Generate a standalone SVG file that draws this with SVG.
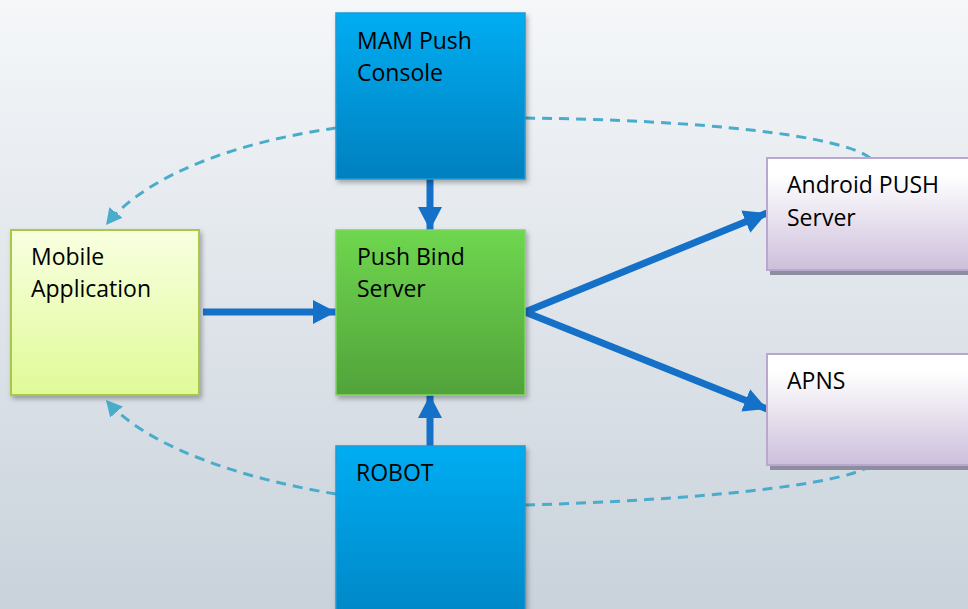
<svg xmlns="http://www.w3.org/2000/svg" width="968" height="609" viewBox="0 0 968 609">
<defs>
<linearGradient id="bg" x1="0" y1="0" x2="0" y2="1"><stop offset="0" stop-color="#f5f7f9"/><stop offset="1" stop-color="#c9d2db"/></linearGradient>
<linearGradient id="gBlue" x1="0" y1="0" x2="0" y2="1"><stop offset="0" stop-color="#00adf2"/><stop offset="1" stop-color="#0080bf"/></linearGradient>
<linearGradient id="gGreen" x1="0" y1="0" x2="0" y2="1"><stop offset="0" stop-color="#6fd64f"/><stop offset="1" stop-color="#51a33a"/></linearGradient>
<linearGradient id="gLime" x1="0" y1="0" x2="0" y2="1"><stop offset="0" stop-color="#f8ffe0"/><stop offset="1" stop-color="#e0fa97"/></linearGradient>
<linearGradient id="gLilac" x1="0" y1="0" x2="0" y2="1"><stop offset="0.15" stop-color="#ffffff"/><stop offset="1" stop-color="#cdbfdb"/></linearGradient>
<filter id="sh" x="-10%" y="-10%" width="130%" height="130%"><feDropShadow dx="2" dy="3" stdDeviation="2.5" flood-color="#000" flood-opacity="0.3"/></filter>
<marker id="ah" markerUnits="userSpaceOnUse" markerWidth="24" markerHeight="24" refX="23" refY="12" orient="auto"><path d="M0,0 L23,12 L0,24 z" fill="#1570c8"/></marker>
<marker id="dh" markerUnits="userSpaceOnUse" markerWidth="17" markerHeight="17" refX="16" refY="8.5" orient="auto"><path d="M0,0 L16,8.5 L0,17 z" fill="#4aaccb"/></marker>
<style>
.t{font-family:"Open Sans","Liberation Sans",sans-serif;font-size:23px;fill:#000}
.a{stroke:#1570c8;stroke-width:7;fill:none;marker-end:url(#ah)}
.d{stroke:#4aaccb;stroke-width:3;fill:none;stroke-dasharray:10 7;marker-end:url(#dh)}
.dn{stroke:#4aaccb;stroke-width:3;fill:none;stroke-dasharray:10 7}
</style>
</defs>
<rect width="968" height="609" fill="url(#bg)"/>
<g id="connectors">
<path class="d" d="M336,128 C250,140 150,170 106,225"/>
<path class="dn" d="M525,118 C700,120 840,135 870,158"/>
<path class="d" d="M336,494 C250,480 150,450 106,400"/>
<path class="dn" d="M525,505 C700,500 840,485 870,466"/>
<line class="a" x1="203" y1="312" x2="336" y2="312"/>
<line class="a" x1="430" y1="179" x2="430" y2="230"/>
<line class="a" x1="430" y1="446" x2="430" y2="395"/>
<line class="a" x1="525" y1="312" x2="767" y2="213"/>
<line class="a" x1="525" y1="312" x2="767" y2="409"/>
</g>
<g id="mobile"><rect x="11" y="230" width="188" height="165" fill="url(#gLime)" stroke="#a8c84c" stroke-width="2" filter="url(#sh)"/><text class="t" x="31" y="265">Mobile</text><text class="t" x="31" y="297">Application</text></g>
<g id="mam"><rect x="336" y="13" width="189" height="166" fill="url(#gBlue)" stroke="#1b9bd6" stroke-width="1.5" filter="url(#sh)"/><text class="t" x="357" y="49">MAM Push</text><text class="t" x="357" y="81">Console</text></g>
<g id="pushbind"><rect x="336" y="230" width="189" height="165" fill="url(#gGreen)" stroke="#7ed660" stroke-width="1.5" filter="url(#sh)"/><text class="t" x="357" y="265">Push Bind</text><text class="t" x="357" y="297">Server</text></g>
<g id="robot"><rect x="336" y="446" width="189" height="200" fill="url(#gBlue)" stroke="#1b9bd6" stroke-width="1.5" filter="url(#sh)"/><text class="t" x="356" y="481">ROBOT</text></g>
<g id="android"><rect x="770" y="163" width="220" height="112" fill="#8d8d9f"/><rect x="767" y="158" width="220" height="112" fill="url(#gLilac)" stroke="#b9a7cd" stroke-width="2"/><text class="t" x="787" y="193">Android PUSH</text><text class="t" x="787" y="226">Server</text></g>
<g id="apns"><rect x="770" y="359" width="220" height="111" fill="#8d8d9f"/><rect x="767" y="354" width="220" height="111" fill="url(#gLilac)" stroke="#b9a7cd" stroke-width="2"/><text class="t" x="787" y="389">APNS</text></g>
</svg>
